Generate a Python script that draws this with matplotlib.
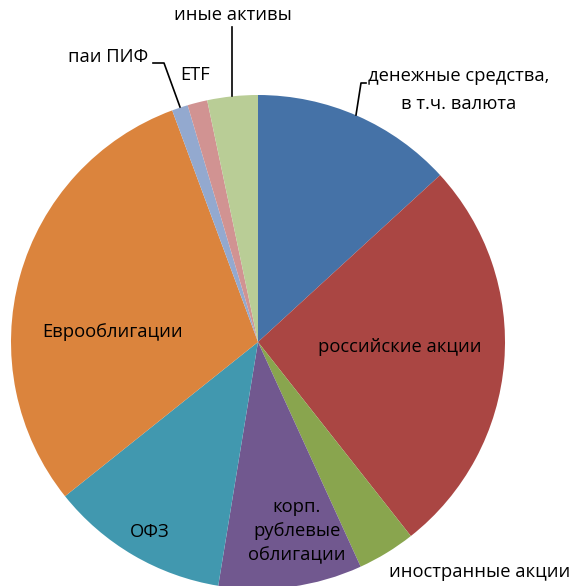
import matplotlib.pyplot as plt

plt.rcParams['font.family'] = ['Open Sans', 'DejaVu Sans']

# asset shares, % (clockwise from 12 o'clock)
labels = ["денежные средства,\nв т.ч. валюта", "российские акции", "иностранные акции",
          "корп.\nрублевые\nоблигации", "ОФЗ", "Еврооблигации", "паи ПИФ", "ETF", "иные активы"]
shares = [13.2, 26.2, 3.8, 9.4, 11.7, 30.1, 1.05, 1.3, 3.3]
colors = ["#4572A7", "#AA4643", "#89A54E", "#71588F", "#4198AF",
          "#DB843D", "#93A9CF", "#D19392", "#B9CD96"]

W, H = 572, 586
fig = plt.figure(figsize=(W / 100, H / 100), dpi=100)
ax = fig.add_axes([0, 0, 1, 1])

cx, cy, r = 258, H - 342, 247
ax.pie(shares, colors=colors, startangle=90, counterclock=False,
       center=(cx, cy), radius=r, frame=True,
       wedgeprops=dict(linewidth=0))
ax.set_xlim(0, W)
ax.set_ylim(0, H)
ax.axis("off")
ax.set_aspect("equal")

fs = 13.2
# labels inside the pie
ax.text(400, H - 347, labels[1], ha="center", va="center", fontsize=fs)
ax.text(113, H - 332, labels[5], ha="center", va="center", fontsize=fs)
ax.text(150, H - 532, labels[4], ha="center", va="center", fontsize=fs)
ax.text(297, H - 531, labels[3], ha="center", va="center", fontsize=fs,
        multialignment="center", linespacing=1.45)

# labels outside with leader lines
ax.text(459, H - 90, labels[0], ha="center", va="center", fontsize=fs,
        multialignment="center", linespacing=1.7)
ax.plot([366, 361, 356], [H - 83, H - 83, H - 115], color="black", lw=1.2)

ax.text(480, H - 572, labels[2], ha="center", va="center", fontsize=fs)

ax.text(233, H - 15, labels[8], ha="center", va="center", fontsize=fs)
ax.plot([232, 232], [H - 27, H - 96], color="black", lw=1.2)

ax.text(195, H - 75, labels[7], ha="center", va="center", fontsize=fs)

ax.text(108, H - 57, labels[6], ha="center", va="center", fontsize=fs)
ax.plot([153, 164, 180], [H - 63, H - 63, H - 107], color="black", lw=1.2)

plt.savefig("out.png", dpi=100)
